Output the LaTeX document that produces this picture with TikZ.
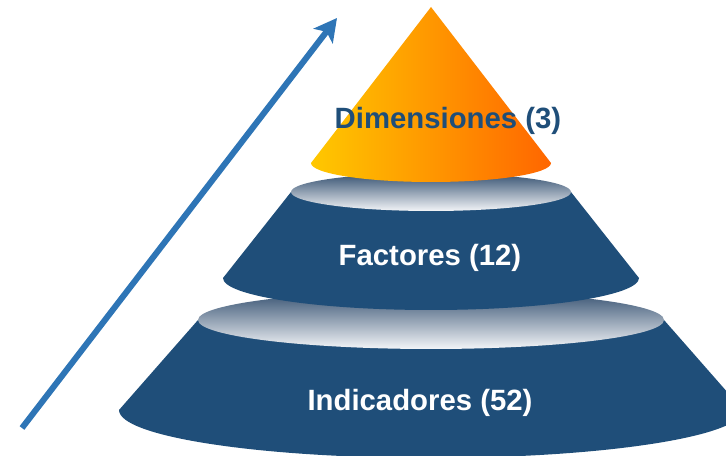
\documentclass[tikz,border=0pt]{standalone}
\usepackage{fontspec}
\setmainfont{Liberation Sans}
\usetikzlibrary{arrows.meta}
\definecolor{layerblue}{RGB}{31,78,121}
\definecolor{rimtop}{RGB}{52,80,112}
\definecolor{rimbot}{RGB}{243,245,248}
\definecolor{coneyellow}{RGB}{255,200,0}
\definecolor{coneorange}{RGB}{255,102,0}
\definecolor{arrowblue}{RGB}{46,117,182}

\begin{document}
\begin{tikzpicture}[x=0.75pt, y=-0.75pt,
  layer/.style={fill=layerblue},
  rim/.style={top color=rimtop, bottom color=rimbot},
  cone/.style={left color=coneyellow, right color=coneorange},
  lbl/.style={font=\fontsize{22}{26}\selectfont\bfseries}]
\useasboundingbox (0,0) rectangle (726,456);
\clip (0,0) rectangle (726,456);

% Blue layers, lowest first (top y/top rx/top ry/bottom y/bottom rx/bottom ry)
\foreach \ty/\trx/\try/\by/\brx/\bry in {320/233/29/410/312/48, 192/140/19/278/208/32} {
  \fill [layer] (431-\trx, \ty) -- (431-\brx, \by)
    arc [start angle=180, end angle=0, x radius=\brx, y radius=\bry]
    -- (431+\trx, \ty) -- cycle;
  \shade [rim] (431, \ty) ellipse [x radius=\trx, y radius=\try];
}

% Orange cone on top
\shade [cone] (431,7) -- (311,163)
  arc [start angle=180, end angle=0, x radius=120, y radius=19] -- cycle;

% Rising arrow
\coordinate (tail) at (22,428);
\coordinate (tip) at (337,18);
\draw [arrowblue, line width=4.5pt, -{Stealth[length=17pt, width=18pt, inset=4pt]}] (tail) -- (tip);

% Labels
\node [lbl, text=layerblue] (dims) at (448,121) {Dimensiones (3)};
\node [lbl, text=white] (facts) at (430,258) {Factores (12)};
\node [lbl, text=white] (inds) at (420,403) {Indicadores (52)};

\end{tikzpicture}
\end{document}
